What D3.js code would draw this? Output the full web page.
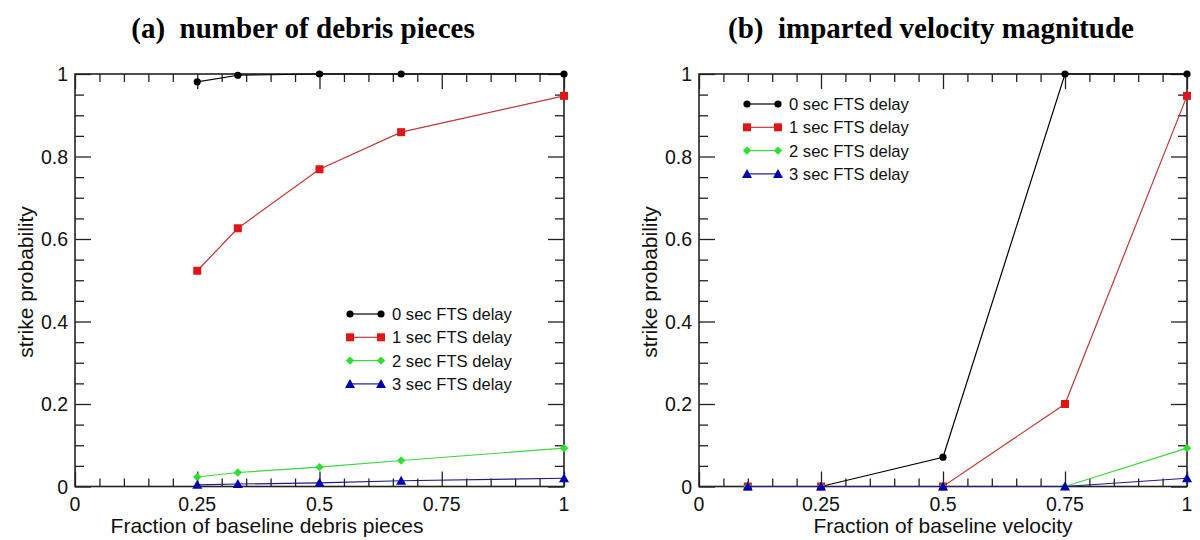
<!DOCTYPE html>
<html><head><meta charset="utf-8">
<script src="https://cdn.jsdelivr.net/npm/d3@7"></script>
<style>
html,body{margin:0;padding:0;background:#fff;}
svg{display:block;}
</style>
</head><body>
<svg id="chart" width="1200" height="540"></svg>
<script>
// ---- data ----
const seriesNames = ["0 sec FTS delay", "1 sec FTS delay", "2 sec FTS delay", "3 sec FTS delay"];
const xDebris = [0.25, 0.333, 0.5, 0.667, 1.0];
const debris0 = [0.981, 0.997, 1.0, 1.0, 1.0];
const debris1 = [0.523, 0.626, 0.769, 0.859, 0.947];
const debris2 = [0.023, 0.034, 0.047, 0.063, 0.093];
const debris3 = [0.004, 0.006, 0.009, 0.014, 0.020];
const xVel = [0.1, 0.25, 0.5, 0.75, 1.0];
const vel0 = [0, 0, 0.071, 1.0, 1.0];
const vel1 = [0, 0, 0, 0.2, 0.947];
const vel2 = [0, 0, 0, 0, 0.093];
const vel3 = [0, 0, 0, 0, 0.020];
const xTickLabels = ["0", "0.25", "0.5", "0.75", "1"];
const yTickLabels = ["0", "0.2", "0.4", "0.6", "0.8", "1"];
const titles = ["(a)\u00a0 number of debris pieces", "(b)\u00a0 imparted velocity magnitude"];
const xTitles = ["Fraction of baseline debris pieces", "Fraction of baseline velocity"];
const yTitle = "strike probability";

const styles = [
  {marker:"#000000", line:"#000000", shape:"circle"},
  {marker:"#e01515", line:"#c03838", shape:"square"},
  {marker:"#2ee02e", line:"#3ad83a", shape:"diamond"},
  {marker:"#0000b0", line:"#1c1c8c", shape:"triangle"}
];

const svg = d3.select("#chart");
const panels = [
  {x0:75, x1:564, xs:xDebris, ys:[debris0,debris1,debris2,debris3], legend:{x:350, y:314}, titleX:303, xTitleX:267},
  {x0:699, x1:1187, xs:xVel, ys:[vel0,vel1,vel2,vel3], legend:{x:747, y:104}, titleX:931, xTitleX:943}
];
const plotTop = 74, plotBottom = 486.5;
const sans = "'Liberation Sans', Arial, Helvetica, sans-serif";

function marker(g, shape, color, cx, cy) {
  if (shape === "circle") {
    g.append("circle").attr("cx", cx).attr("cy", cy).attr("r", 3.6).attr("fill", color);
  } else if (shape === "square") {
    g.append("rect").attr("x", cx-4).attr("y", cy-4).attr("width", 8).attr("height", 8).attr("fill", color);
  } else if (shape === "diamond") {
    g.append("path").attr("d", `M${cx},${cy-4.2}L${cx+4.2},${cy}L${cx},${cy+4.2}L${cx-4.2},${cy}Z`).attr("fill", color);
  } else {
    g.append("path").attr("d", `M${cx},${cy-5}L${cx+5},${cy+4}L${cx-5},${cy+4}Z`).attr("fill", color);
  }
}

panels.forEach((p, pi) => {
  const x = d3.scaleLinear().domain([0, 1]).range([p.x0, p.x1]);
  const y = d3.scaleLinear().domain([0, 1]).range([plotBottom, plotTop]);
  const g = svg.append("g");

  const minor = d3.range(0, 1.0001, 0.05);
  const majorX = [0, 0.25, 0.5, 0.75, 1];
  const majorY = [0, 0.2, 0.4, 0.6, 0.8, 1];
  const isMaj = (v, arr) => arr.some(a => Math.abs(a - v) < 1e-6);

  const axB = d3.axisBottom(x).tickValues(minor).tickFormat("").tickSizeOuter(0).tickSizeInner(-8);
  const axT = d3.axisTop(x).tickValues(minor).tickFormat("").tickSizeOuter(0).tickSizeInner(-8);
  const axL = d3.axisLeft(y).tickValues(minor).tickFormat("").tickSizeOuter(0).tickSizeInner(-9);
  const axR = d3.axisRight(y).tickValues(minor).tickFormat("").tickSizeOuter(0).tickSizeInner(-9);

  const gb = g.append("g").attr("transform", `translate(0,${plotBottom})`).call(axB);
  const gt = g.append("g").attr("transform", `translate(0,${plotTop})`).call(axT);
  const gl = g.append("g").attr("transform", `translate(${p.x0},0)`).call(axL);
  const gr = g.append("g").attr("transform", `translate(${p.x1},0)`).call(axR);
  gb.selectAll(".tick line").attr("y2", d => -(isMaj(d, majorX) ? 15 : 8));
  gt.selectAll(".tick line").attr("y2", d => (isMaj(d, majorX) ? 15 : 8));
  gl.selectAll(".tick line").attr("x2", d => (isMaj(d, majorY) ? 16 : 9));
  gr.selectAll(".tick line").attr("x2", d => -(isMaj(d, majorY) ? 16 : 9));
  [gb, gt, gl, gr].forEach(a => {
    a.select(".domain").remove();
    a.selectAll(".tick line").attr("stroke", "#222").attr("stroke-width", 1.3);
  });

  // frame
  g.append("rect").attr("x", p.x0).attr("y", plotTop).attr("width", p.x1 - p.x0).attr("height", plotBottom - plotTop)
    .attr("fill", "none").attr("stroke", "#222").attr("stroke-width", 1.6);

  // tick labels
  g.selectAll(".xl").data(majorX).enter().append("text")
    .attr("x", d => x(d)).attr("y", 511).attr("text-anchor", "middle")
    .attr("font-family", sans).attr("font-size", 19.5).attr("fill", "#111")
    .text((d, i) => xTickLabels[i]);
  g.selectAll(".yl").data(majorY).enter().append("text")
    .attr("x", p.x0 - 7).attr("y", d => y(d) + 7).attr("text-anchor", "end")
    .attr("font-family", sans).attr("font-size", 19.5).attr("fill", "#111")
    .text((d, i) => yTickLabels[i]);

  // axis titles
  g.append("text").attr("x", p.xTitleX).attr("y", 533).attr("text-anchor", "middle")
    .attr("font-family", sans).attr("font-size", 21).attr("fill", "#111").text(xTitles[pi]);
  g.append("text").attr("transform", `translate(${p.x0 - 42},282) rotate(-90)`).attr("text-anchor", "middle")
    .attr("font-family", sans).attr("font-size", 21).attr("fill", "#111").text(yTitle);

  // panel title
  svg.append("text").attr("x", p.titleX).attr("y", 38).attr("text-anchor", "middle")
    .attr("font-family", "'Liberation Serif', 'Times New Roman', serif").attr("font-weight", "bold")
    .attr("font-size", 29).attr("fill", "#000").text(titles[pi]);

  // series
  const line = d3.line().x(d => x(d[0])).y(d => y(d[1]));
  p.ys.forEach((vals, si) => {
    const pts = p.xs.map((xv, k) => [xv, vals[k]]);
    g.append("path").attr("d", line(pts)).attr("fill", "none")
      .attr("stroke", styles[si].line).attr("stroke-width", 1.2);
    const mg = g.append("g");
    pts.forEach(d => marker(mg, styles[si].shape, styles[si].marker, x(d[0]), y(d[1])));
  });

  // legend
  const lg = g.append("g");
  seriesNames.forEach((name, si) => {
    const ly = p.legend.y + si * 23.3;
    lg.append("line").attr("x1", p.legend.x).attr("x2", p.legend.x + 31).attr("y1", ly).attr("y2", ly)
      .attr("stroke", styles[si].line).attr("stroke-width", 1.2);
    marker(lg, styles[si].shape, styles[si].marker, p.legend.x, ly);
    marker(lg, styles[si].shape, styles[si].marker, p.legend.x + 31, ly);
    lg.append("text").attr("x", p.legend.x + 42).attr("y", ly + 6)
      .attr("font-family", sans).attr("font-size", 16.6).attr("fill", "#111").text(name);
  });
});
</script>
</body></html>
